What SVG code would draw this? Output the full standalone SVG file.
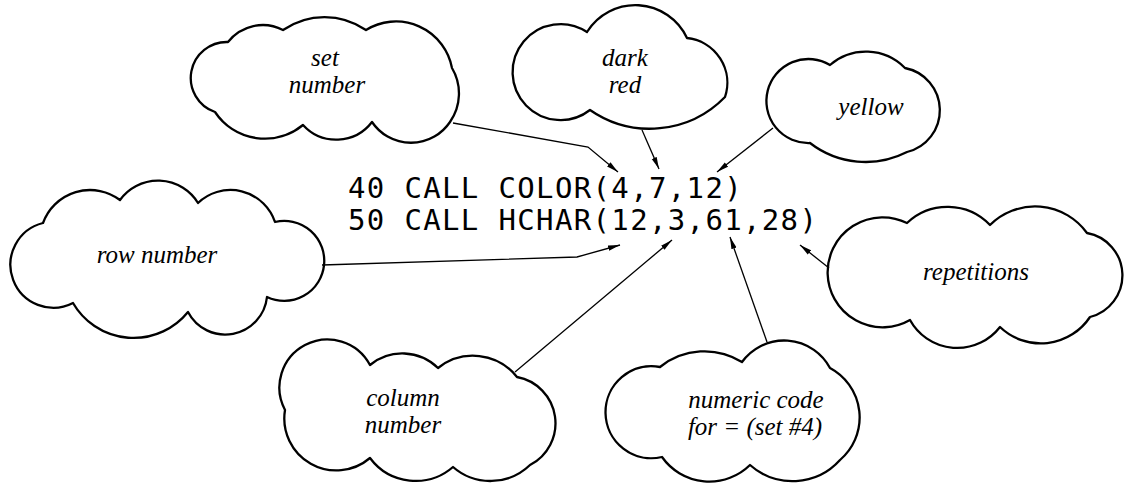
<svg xmlns="http://www.w3.org/2000/svg" width="1127" height="483" viewBox="0 0 1127 483">
<style>
.cloud{fill:#fff;stroke:#000;stroke-width:2.3;stroke-linejoin:round}
.lbl{font-family:"Liberation Serif","Times New Roman",serif;font-style:italic;font-size:25px;fill:#000;text-anchor:middle}
.code{font-family:"DejaVu Sans Mono",monospace;font-size:29px;letter-spacing:1.35px;fill:#000}
.conn{fill:none;stroke:#000;stroke-width:1.3;marker-end:url(#arr)}
</style>
<defs>
<marker id="arr" markerUnits="userSpaceOnUse" markerWidth="13" markerHeight="7" refX="12" refY="3.5" orient="auto">
<path d="M0,0.8 L12,3.5 L0,6.2 z" fill="#000"/>
</marker>
</defs>
<rect width="1127" height="483" fill="#fff"/>
<g id="code">
<text class="code" x="348" y="198">40 CALL COLOR(4,7,12)</text>
<text class="code" x="348" y="230">50 CALL HCHAR(12,3,61,28)</text>
</g>
<g id="set-number">
<path class="cloud" d="M228 42 A44 44 0 0 1 283 30 A73 73 0 0 1 366 30 A57 57 0 0 1 452 68 A50 50 0 0 1 450 122 A47 47 0 0 1 372 122 A45 45 0 0 1 303 125 A60 60 0 0 1 215 112 A36 36 0 0 1 228 42 Z"/>
<text class="lbl" x="325" y="66">set</text>
<text class="lbl" x="327" y="93">number</text>
</g>
<g id="dark-red">
<path class="cloud" d="M587 32 A57 57 0 0 1 687 38 A45 45 0 0 1 725 97 A105 105 0 0 1 590 110 A48 48 0 1 1 587 32 Z"/>
<text class="lbl" x="625" y="66">dark</text>
<text class="lbl" x="625" y="93">red</text>
</g>
<g id="yellow">
<path class="cloud" d="M810 143 A42 42 0 1 1 830 65 A55 55 0 0 1 905 68 A43 43 0 0 1 907 152 A91 91 0 0 1 810 143 Z"/>
<text class="lbl" x="871" y="115">yellow</text>
</g>
<g id="row-number">
<path class="cloud" d="M43 223 A50 50 0 0 1 120 200 A47 47 0 0 1 198 203 A47 47 0 0 1 275 222 A40 40 0 1 1 267 297 A42 42 0 0 1 188 312 A70 70 0 0 1 73 303 A43 43 0 1 1 43 223 Z"/>
<text class="lbl" x="157" y="263">row number</text>
</g>
<g id="repetitions">
<path class="cloud" d="M907 223 A59 59 0 0 1 990 225 A64 64 0 0 1 1087 233 A43 43 0 0 1 1090 317 A59 59 0 0 1 1000 327 A54 54 0 0 1 910 320 A55 55 0 1 1 907 223 Z"/>
<text class="lbl" x="976" y="280">repetitions</text>
</g>
<g id="column-number">
<path class="cloud" d="M370 365 A51 51 0 0 1 438 368 A56 56 0 0 1 517 377 A47 47 0 0 1 530 465 A57 57 0 0 1 453 467 A57 57 0 0 1 370 458 A52 52 0 0 1 285 410 A48 48 0 0 1 370 365 Z"/>
<text class="lbl" x="403" y="406">column</text>
<text class="lbl" x="403" y="433">number</text>
</g>
<g id="numeric-code">
<path class="cloud" d="M660 367 A71 71 0 0 1 742 362 A52 52 0 0 1 830 368 A56 56 0 0 1 840 460 A64 64 0 0 1 750 465 A58 58 0 0 1 662 457 A46 46 0 1 1 660 367 Z"/>
<text class="lbl" x="756" y="408">numeric code</text>
<text class="lbl" x="755" y="435">for = (set #4)</text>
</g>
<g id="connectors">
<polyline class="conn" points="453,123 588,147 618,172"/>
<line class="conn" x1="642" y1="130" x2="659" y2="169"/>
<line class="conn" x1="773" y1="128" x2="717" y2="172"/>
<polyline class="conn" points="322,265 577,257 620,245"/>
<line class="conn" x1="515" y1="372" x2="672" y2="240"/>
<line class="conn" x1="767" y1="342" x2="730" y2="237"/>
<line class="conn" x1="829" y1="268" x2="800" y2="245"/>
</g>
</svg>
